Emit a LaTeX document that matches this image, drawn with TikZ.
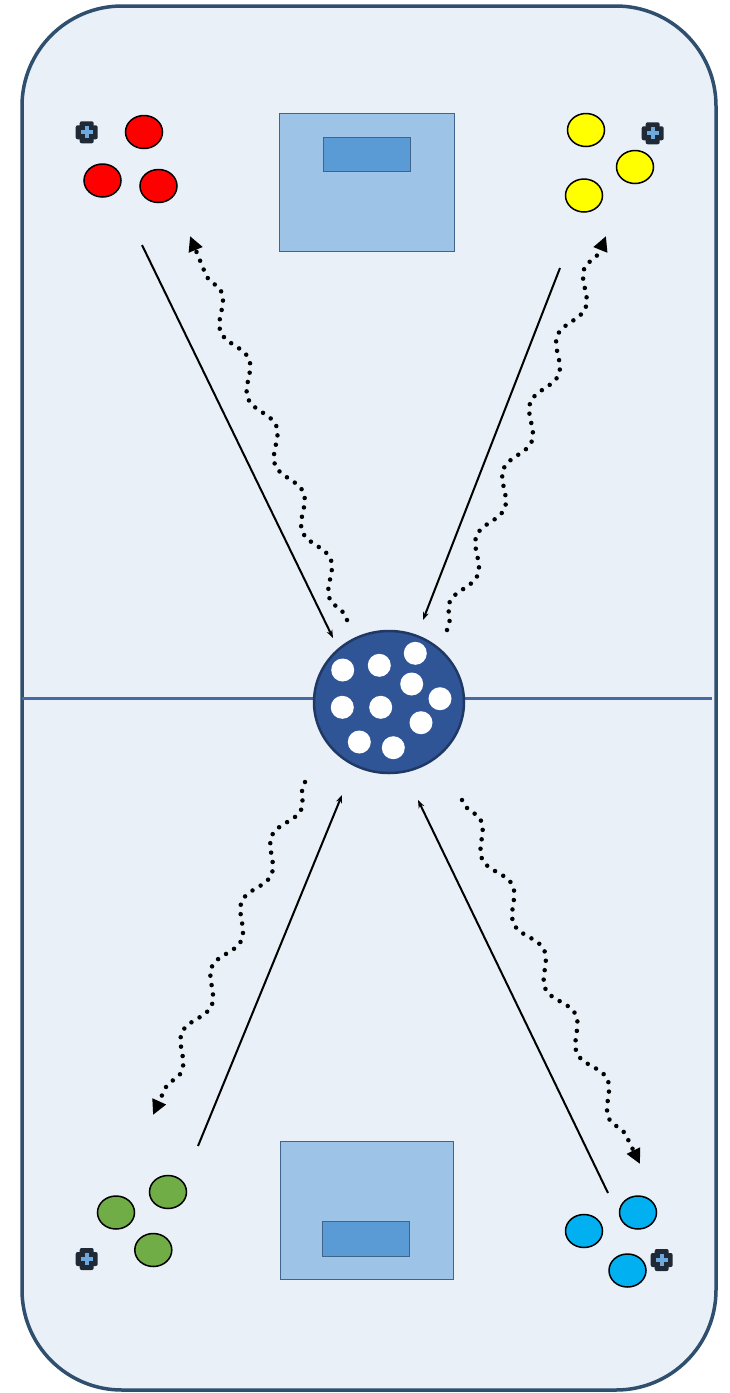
\documentclass[tikz,border=0pt]{standalone}
\usepackage{tikz}
\usetikzlibrary{arrows.meta, shapes.geometric, decorations.pathmorphing, calc}
\definecolor{ice}{HTML}{E9F0F8}
\definecolor{boards}{HTML}{2F4F6F}
\definecolor{redline}{HTML}{4A69A3}
\definecolor{puckblue}{HTML}{2F5597}
\definecolor{puckedge}{HTML}{203864}
\definecolor{netfill}{HTML}{9DC3E6}
\definecolor{netedge}{HTML}{41648A}
\definecolor{creasefill}{HTML}{5B9BD5}
\definecolor{coachdark}{HTML}{1F2A36}
\definecolor{coachplus}{HTML}{6FA8DC}
\definecolor{teamred}{HTML}{FF0000}
\definecolor{teamyellow}{HTML}{FFFF00}
\definecolor{teamgreen}{HTML}{70AD47}
\definecolor{teamblue}{HTML}{00B0F0}
\newcommand{\coachicon}[1]{%
  \fill[coachdark, rounded corners=2pt] ($(#1)+(-7,-11)$) rectangle ($(#1)+(7,11)$);
  \fill[coachdark, rounded corners=2pt] ($(#1)+(-11,-7)$) rectangle ($(#1)+(11,7)$);
  \fill[coachplus] ($(#1)+(-2,-6)$) rectangle ($(#1)+(2,6)$);
  \fill[coachplus] ($(#1)+(-6,-2)$) rectangle ($(#1)+(6,2)$);
}

\begin{document}
\begin{tikzpicture}[
  x=1pt, y=-1pt,
  rink/.style={draw=boards, fill=ice, line width=3.5pt, rounded corners=100pt},
  player/.style={ellipse, draw=black, line width=1.5pt, minimum width=37pt, minimum height=33pt, inner sep=0pt},
  net/.style={rectangle, draw=netedge, fill=netfill, line width=1pt, inner sep=0pt},
  crease/.style={rectangle, draw=netedge, fill=creasefill, line width=1pt, inner sep=0pt},
  puck/.style={circle, fill=white, minimum size=23pt, inner sep=0pt},
  pass/.style={-{Stealth[length=8pt,width=6pt]}, line width=2pt},
  skate/.style={decorate, decoration={snake, segment length=72pt, amplitude=8pt, pre length=4pt, post length=15pt},
    line width=4.5pt, line cap=round, dash pattern=on 0pt off 9.5pt, -{Triangle[length=15pt,width=14pt]}}
]
  \useasboundingbox (0,0) rectangle (729,1393);
  \draw[rink] (22,6) rectangle (716,1390);
  \draw[redline, line width=3pt] (22,698) -- (712,698);

  % nets
  \node[net, minimum width=175pt, minimum height=138pt] (topnet) at (366.5,182) {};
  \node[crease, minimum width=87pt, minimum height=34pt] (topcrease) at (366.5,154) {};
  \node[net, minimum width=173pt, minimum height=138pt] (botnet) at (366.5,1210) {};
  \node[crease, minimum width=87pt, minimum height=35pt] (botcrease) at (365.5,1238.5) {};

  % centre bucket of pucks
  \node[ellipse, fill=puckblue, draw=puckedge, line width=2.5pt, minimum width=150pt, minimum height=142pt] (bucket) at (389,702) {};
  \foreach \px/\py [count=\i] in {342.7/670, 379.3/665.3, 415.3/653.3, 411.7/684, 440/698.7,
      342.3/707.3, 380.7/707.3, 421/722.7, 359.3/742, 393.3/747.7}
    \node[puck] (puck\i) at (\px,\py) {};

  % players
  \node[player, fill=teamred] (red1) at (144,132) {};
  \node[player, fill=teamred] (red2) at (102.5,180.5) {};
  \node[player, fill=teamred] (red3) at (158.5,186) {};
  \node[player, fill=teamyellow] (yel1) at (586,130) {};
  \node[player, fill=teamyellow] (yel2) at (635,167) {};
  \node[player, fill=teamyellow] (yel3) at (584,195.5) {};
  \node[player, fill=teamgreen] (grn1) at (168,1192) {};
  \node[player, fill=teamgreen] (grn2) at (116,1212.5) {};
  \node[player, fill=teamgreen] (grn3) at (153.3,1250) {};
  \node[player, fill=teamblue] (blu1) at (638,1212.5) {};
  \node[player, fill=teamblue] (blu2) at (584,1231) {};
  \node[player, fill=teamblue] (blu3) at (627.5,1270.5) {};

  % coaches
  \coordinate (redcoach) at (86.7,132.3);
  \coordinate (yelcoach) at (652.7,133.3);
  \coordinate (grncoach) at (86.7,1259);
  \coordinate (blucoach) at (661.7,1260);
  \coachicon{redcoach}
  \coachicon{yelcoach}
  \coachicon{grncoach}
  \coachicon{blucoach}

  % passes into the middle
  \coordinate (redpass) at (142,245);
  \coordinate (redin) at (333,638);
  \coordinate (yelpass) at (560,268);
  \coordinate (yelin) at (423,620);
  \coordinate (grnpass) at (198,1146);
  \coordinate (grnin) at (342,795);
  \coordinate (blupass) at (608,1193);
  \coordinate (bluin) at (418,800);
  \draw[pass] (redpass) -- (redin);
  \draw[pass] (yelpass) -- (yelin);
  \draw[pass] (grnpass) -- (grnin);
  \draw[pass] (blupass) -- (bluin);

  % skating back with a puck
  \coordinate (redout) at (347,620);
  \coordinate (redback) at (190,236);
  \coordinate (yelout) at (447,630);
  \coordinate (yelback) at (606,236);
  \coordinate (grnout) at (305,782);
  \coordinate (grnback) at (153,1115);
  \coordinate (bluout) at (462,800);
  \coordinate (bluback) at (640,1164);
  \draw[skate] (redout) -- (redback);
  \draw[skate] (yelout) -- (yelback);
  \draw[skate] (grnout) -- (grnback);
  \draw[skate] (bluout) -- (bluback);
\end{tikzpicture}
\end{document}
